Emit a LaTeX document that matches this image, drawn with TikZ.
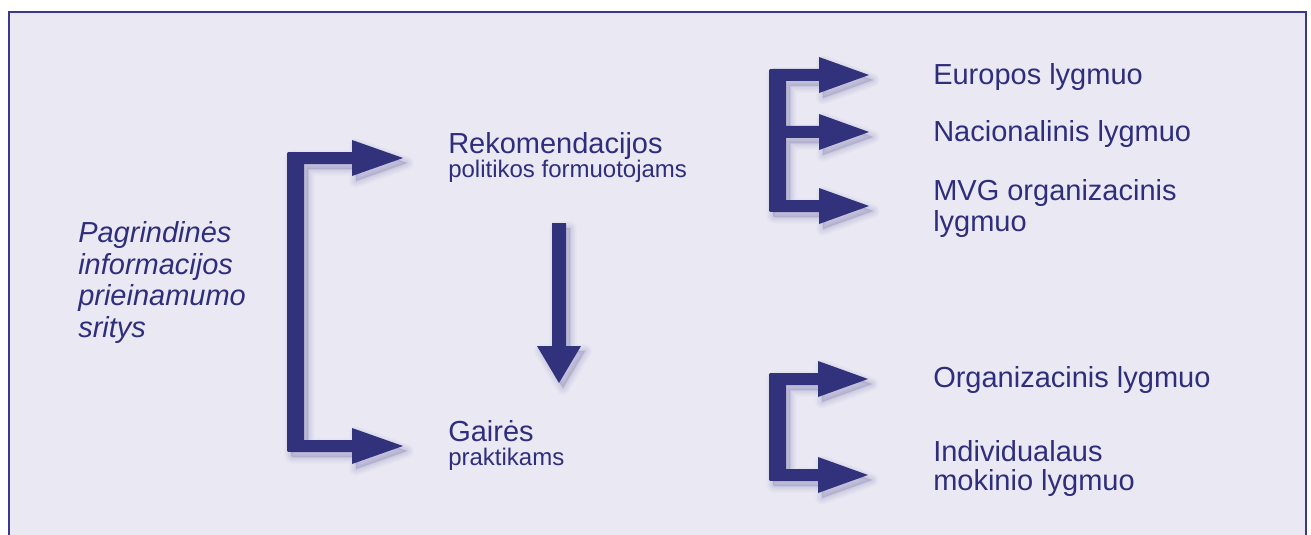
\documentclass[tikz,border=0pt]{standalone}
\usepackage{fontspec}
\setmainfont{Liberation Sans}
\definecolor{bgcol}{HTML}{EAE9F3}
\definecolor{framecol}{HTML}{3A3A8A}
\definecolor{arrowcol}{HTML}{32327C}
\definecolor{txtcol}{HTML}{2E2E7C}
\definecolor{shadowcol}{HTML}{4A4890}
\tikzset{
  big/.style={anchor=base west, inner sep=0pt, text=txtcol, font=\fontsize{21.75pt}{23pt}\selectfont},
  small/.style={anchor=base west, inner sep=0pt, text=txtcol, font=\fontsize{18pt}{20pt}\selectfont},
  bigit/.style={big, font=\fontsize{21.75pt}{23pt}\selectfont\itshape},
  blockarrow/.style={fill=arrowcol},
  shadowlayer/.style={draw=shadowcol, fill=shadowcol, line join=round, shift={(4,5)}},
}
\newcommand{\castshadow}[1]{%
  \path[shadowlayer, opacity=0.04, line width=10pt] #1;
  \path[shadowlayer, opacity=0.05, line width=7pt] #1;
  \path[shadowlayer, opacity=0.05, line width=4pt] #1;
  \path[shadowlayer, opacity=0.06, line width=1.5pt] #1;
}
\def\bracketL{(287,156) .. controls (287,152) .. (291,152) -- (352,152) -- (352,140) -- (403,158) -- (352,176) -- (352,164) -- (304,164) -- (304,440) -- (352,440) -- (352,428) -- (403,446) -- (352,464) -- (352,452) -- (291,452) .. controls (287,452) .. (287,448) -- cycle}
\def\bracketE{(769,73) .. controls (769,69) .. (773,69) -- (819,69) -- (819,57) -- (869,75) -- (819,93) -- (819,81) -- (786,81) -- (786,126) -- (819,126) -- (819,114) -- (869,132) -- (819,150) -- (819,138) -- (786,138) -- (786,200) -- (819,200) -- (819,188) -- (869,206) -- (819,224) -- (819,212) -- (773,212) .. controls (769,212) .. (769,208) -- cycle}
\def\bracketC{(769,377) .. controls (769,373) .. (773,373) -- (818,373) -- (818,361) -- (868,379) -- (818,397) -- (818,385) -- (786,385) -- (786,469) -- (818,469) -- (818,457) -- (868,475) -- (818,493) -- (818,481) -- (773,481) .. controls (769,481) .. (769,477) -- cycle}
\def\arrowD{(552,223) -- (566,223) -- (566,346) -- (581,346) -- (559,383) -- (537,346) -- (552,346) -- cycle}
\begin{document}
\begin{tikzpicture}[x=0.75pt, y=-0.75pt]
\useasboundingbox (0,0) rectangle (1311,535);
\clip (0,0) rectangle (1311,535);
\fill[white] (0,0) rectangle (1311,535);
\draw[framecol, line width=1.9pt, fill=bgcol] (9,12) rectangle (1306,570);

% shadows
\castshadow{\bracketL}
\castshadow{\bracketE}
\castshadow{\bracketC}
\castshadow{\arrowD}

% block arrows
\fill[blockarrow] \bracketL;
\fill[blockarrow] \bracketE;
\fill[blockarrow] \bracketC;
\fill[blockarrow] \arrowD;

% left label
\node[bigit] (l1) at (78,242.7) {Pagrindinės};
\node[bigit] (l2) at (78,274) {informacijos};
\node[bigit] (l3) at (78,305.5) {prieinamumo};
\node[bigit] (l4) at (78,337) {sritys};

% middle column
\node[big] (rek) at (448,153.3) {Rekomendacijos};
\node[small] (pol) at (448,177.3) {politikos formuotojams};
\node[big] (gai) at (448,441.7) {Gairės};
\node[small] (pra) at (448,465) {praktikams};

% right column
\node[big] (eur) at (933,84.3) {Europos lygmuo};
\node[big] (nac) at (933,141.7) {Nacionalinis lygmuo};
\node[big] (mvg1) at (933,200.7) {MVG organizacinis};
\node[big] (mvg2) at (933,231.7) {lygmuo};
\node[big] (org) at (933,387.7) {Organizacinis lygmuo};
\node[big] (ind1) at (933,461) {Individualaus};
\node[big] (ind2) at (933,490.5) {mokinio lygmuo};
\end{tikzpicture}
\end{document}
